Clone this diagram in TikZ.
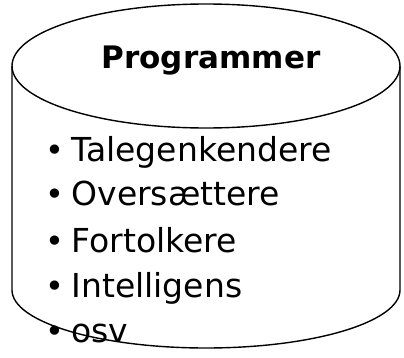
\documentclass[tikz,border=0pt]{standalone}
\usepackage{fontspec}
\setmainfont{DejaVu Sans}
\usepackage{tikz}
\usetikzlibrary{positioning}

% bullet in front of each entry
\newcommand{\dotmark}{{\fontsize{32}{32}\selectfont\textbullet}\hspace{7.5pt}}

\begin{document}
\begin{tikzpicture}[x=1pt, y=1pt,
    tank/.style={draw=black, line width=1.4pt},
    title/.style={font=\fontsize{31}{36}\selectfont\bfseries, anchor=base},
    item/.style={font=\fontsize{33}{40}\selectfont, anchor=base west, inner sep=0pt}]
    \useasboundingbox (0,0) rectangle (404,357);

    % Cylinder body
    \draw[tank] (206,291) ellipse [x radius=194, y radius=62];
    \draw[tank] (12,291) -- (12,67) arc [start angle=180, end angle=360, x radius=194, y radius=58] -- (400,291);

    % Title in the lid
    \node[title] (head) at (211,289) {Programmer};

    % Bullet list
    \node[item] (tale) at (45,196) {\dotmark Talegenkendere};
    \node[item] (over) at (45,152) {\dotmark Oversættere};
    \node[item] (fort) at (45,105) {\dotmark Fortolkere};
    \node[item] (intl) at (45,60) {\dotmark Intelligens};
    \node[item] (osv) at (45,15) {\dotmark osv};
\end{tikzpicture}
\end{document}
